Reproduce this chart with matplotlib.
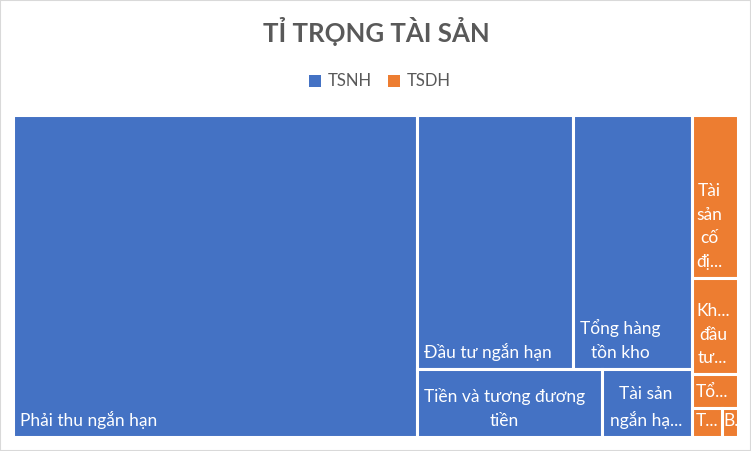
import matplotlib
matplotlib.use("Agg")
import matplotlib.pyplot as plt
from matplotlib.patches import Rectangle

# ---- data ----
groups = ["TSNH", "TSDH"]
group_colors = ["#4472C4", "#ED7D31"]
tsnh_labels = ["Phải thu ngắn hạn", "Đầu tư ngắn hạn", "Tổng hàng\ntồn kho",
               "Tiền và tương đương\ntiền", "Tài sản\nngắn hạ..."]
tsnh_values = [55.7, 17.0, 12.9, 5.4, 2.6]
tsdh_labels = ["Tài\nsản\ncố\nđị...", "Kh...\nđầu\ntư...", "Tổ...", "T...", "B..."]
tsdh_values = [3.2, 1.9, 0.66, 0.38, 0.19]

title = "TỈ TRỌNG TÀI SẢN"
FONT = ["Lato", "Noto Sans", "DejaVu Sans"]


def avg_ratio(row, short):
    s = sum(row)
    t = s / short
    rs = []
    for a in row:
        ln = a / t
        rs.append(max(t / ln, ln / t))
    return sum(rs) / len(rs)


def squarify(vals, x, y, w, h):
    total = sum(vals)
    scale = w * h / total
    areas = [v * scale for v in vals]
    rects = []
    i = 0
    while i < len(areas):
        short = min(w, h)
        row = [areas[i]]
        best = avg_ratio(row, short)
        j = i + 1
        while j < len(areas):
            cand = row + [areas[j]]
            r = avg_ratio(cand, short)
            if r <= best:
                row, best = cand, r
                j += 1
            else:
                break
        s = sum(row)
        if w >= h:
            t = s / h
            yy = y
            for a in row:
                hh = a / t
                rects.append((x, yy, t, hh))
                yy += hh
            x += t
            w -= t
        else:
            t = s / w
            xx = x
            for a in row:
                ww = a / t
                rects.append((xx, y, ww, t))
                xx += ww
            y += t
            h -= t
        i = j
    return rects


W, H = 751, 451
fig = plt.figure(figsize=(W / 100, H / 100), dpi=100)
fig.patch.set_facecolor("white")
fig.add_artist(Rectangle((0, 0), 1, 1, transform=fig.transFigure, fill=False,
                         edgecolor="#D9D9D9", linewidth=1.5))

L, R, T, B = 12.5, 737.5, 115.2, 436.8
ax = fig.add_axes([L / W, 1 - B / H, (R - L) / W, (B - T) / H])
AW, AH = R - L, B - T
ax.set_xlim(0, AW)
ax.set_ylim(AH, 0)
ax.axis("off")

group_vals = [sum(tsnh_values), sum(tsdh_values)]
group_rects = squarify(group_vals, 0, 0, AW, AH)
children = [(tsnh_labels, tsnh_values), (tsdh_labels, tsdh_values)]

for (gx, gy, gw, gh), color, (labs, vals) in zip(group_rects, group_colors, children):
    for (x, y, w, h), lab in zip(squarify(vals, gx, gy, gw, gh), labs):
        rect = Rectangle((x, y), w, h, facecolor=color, edgecolor="white",
                         linewidth=2.2)
        ax.add_patch(rect)
        pad = 7.5 if w > 60 else (4.5 if w > 25 else 1.0)
        txt = ax.text(x + pad, y + h - 8, lab, color="white", fontsize=12.5,
                      family=FONT, ha="left", va="bottom", multialignment="center",
                      linespacing=1.58)
        txt.set_clip_path(rect)

fig.text(376 / W, 1 - 31 / H, title, ha="center", va="center", fontsize=18.5,
         fontweight="bold", color="#595959", family=FONT)

# legend
for g, c, sx in zip(groups, group_colors, [309, 388]):
    fig.add_artist(Rectangle((sx / W, 1 - 86.5 / H), 11.5 / W, 11.5 / H,
                             transform=fig.transFigure, facecolor=c, edgecolor="none"))
    fig.text((sx + 19) / W, 1 - 81 / H, g, ha="left", va="center", fontsize=12,
             color="#595959", family=FONT)

fig.savefig("out.png", dpi=100, facecolor="white")
